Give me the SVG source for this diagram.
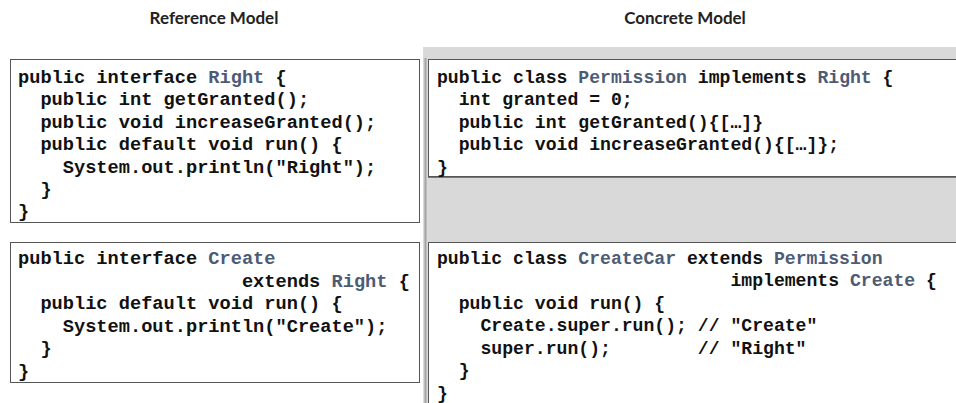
<svg xmlns="http://www.w3.org/2000/svg" width="956" height="403" viewBox="0 0 956 403">
<style>
  .title { font-family: Lato, "Liberation Sans", sans-serif; font-weight: bold; font-size: 17px; fill: #222; text-anchor: middle; }
  .code { font-family: "Liberation Mono", "DejaVu Sans Mono", "Courier New", monospace; font-weight: bold; fill: #111; white-space: pre; }
  .l { font-size: 18.67px; }
  .r { font-size: 18.13px; }
  .cls { fill: #4d5b75; }
  .box { fill: #ffffff; stroke: #555555; stroke-width: 1; }
</style>
<rect width="956" height="403" fill="#ffffff"/>
<text class="title" x="214" y="24">Reference Model</text>
<text class="title" x="685" y="24">Concrete Model</text>
<rect x="423" y="47" width="533" height="356" fill="#d9d9d9"/>
<g id="connectors">
  <line x1="425.5" y1="58" x2="425.5" y2="403" stroke="#a3a3a3" stroke-width="2"/>
</g>
<g id="right-interface" font-family="'Liberation Mono', 'DejaVu Sans Mono', monospace" font-weight="bold">
  <rect class="box" x="10.5" y="59.5" width="409" height="163"/>
  <text class="code l" xml:space="preserve" x="18" y="83">public interface <tspan class="cls">Right</tspan> {</text>
  <text class="code l" xml:space="preserve" x="18" y="105.4">  public int getGranted();</text>
  <text class="code l" xml:space="preserve" x="18" y="127.8">  public void increaseGranted();</text>
  <text class="code l" xml:space="preserve" x="18" y="150.2">  public default void run() {</text>
  <text class="code l" xml:space="preserve" x="18" y="172.6">    System.out.println("Right");</text>
  <text class="code l" xml:space="preserve" x="18" y="195">  }</text>
  <text class="code l" xml:space="preserve" x="18" y="217.4">}</text>
</g>
<g id="permission-class" font-family="'Liberation Mono', 'DejaVu Sans Mono', monospace" font-weight="bold">
  <rect class="box" x="428.5" y="59.5" width="540" height="117"/>
  <line x1="428" y1="177.5" x2="956" y2="177.5" stroke="#777777" stroke-width="1"/>
  <text class="code r" xml:space="preserve" x="437" y="83">public class <tspan class="cls">Permission</tspan> implements <tspan class="cls">Right</tspan> {</text>
  <text class="code r" xml:space="preserve" x="437" y="105.45">  int granted = 0;</text>
  <text class="code r" xml:space="preserve" x="437" y="127.9">  public int getGranted(){[…]}</text>
  <text class="code r" xml:space="preserve" x="437" y="150.35">  public void increaseGranted(){[…]};</text>
  <text class="code r" xml:space="preserve" x="437" y="172.8">}</text>
</g>
<g id="create-interface" font-family="'Liberation Mono', 'DejaVu Sans Mono', monospace" font-weight="bold">
  <rect class="box" x="10.5" y="242.5" width="409" height="140"/>
  <text class="code l" xml:space="preserve" x="18" y="264">public interface <tspan class="cls">Create</tspan></text>
  <text class="code l" xml:space="preserve" x="18" y="286.5">                    extends <tspan class="cls">Right</tspan> {</text>
  <text class="code l" xml:space="preserve" x="18" y="309">  public default void run() {</text>
  <text class="code l" xml:space="preserve" x="18" y="331.5">    System.out.println("Create");</text>
  <text class="code l" xml:space="preserve" x="18" y="354">  }</text>
  <text class="code l" xml:space="preserve" x="18" y="376.5">}</text>
</g>
<g id="createcar-class" font-family="'Liberation Mono', 'DejaVu Sans Mono', monospace" font-weight="bold">
  <rect class="box" x="428.5" y="242.5" width="540" height="180"/>
  <text class="code r" xml:space="preserve" x="437" y="264">public class <tspan class="cls">CreateCar</tspan> extends <tspan class="cls">Permission</tspan></text>
  <text class="code r" xml:space="preserve" x="437" y="286.45">                           implements <tspan class="cls">Create</tspan> {</text>
  <text class="code r" xml:space="preserve" x="437" y="308.9">  public void run() {</text>
  <text class="code r" xml:space="preserve" x="437" y="331.35">    Create.super.run(); // "Create"</text>
  <text class="code r" xml:space="preserve" x="437" y="353.8">    super.run();        // "Right"</text>
  <text class="code r" xml:space="preserve" x="437" y="376.25">  }</text>
  <text class="code r" xml:space="preserve" x="437" y="398.7">}</text>
</g>
</svg>
